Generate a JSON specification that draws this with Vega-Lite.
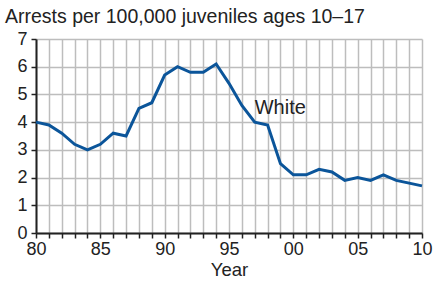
{
  "$schema": "https://vega.github.io/schema/vega-lite/v6.json",
  "width": 386,
  "height": 194,
  "autosize": "none",
  "padding": {"left": 36, "top": 39, "right": 23, "bottom": 49},
  "background": "white",
  "config": {
    "font": "Liberation Sans",
    "view": {"stroke": null}
  },
  "title": {
    "text": "Arrests per 100,000 juveniles ages 10–17",
    "anchor": "start",
    "frame": "group",
    "dx": -31,
    "offset": -12,
    "baseline": "alphabetic",
    "fontSize": 19.5,
    "fontWeight": "normal",
    "color": "#222"
  },
  "datasets": {
    "series": [
      {"year": 1980, "rate": 4.0},
      {"year": 1981, "rate": 3.9},
      {"year": 1982, "rate": 3.6},
      {"year": 1983, "rate": 3.2},
      {"year": 1984, "rate": 3.0},
      {"year": 1985, "rate": 3.2},
      {"year": 1986, "rate": 3.6},
      {"year": 1987, "rate": 3.5},
      {"year": 1988, "rate": 4.5},
      {"year": 1989, "rate": 4.7},
      {"year": 1990, "rate": 5.7},
      {"year": 1991, "rate": 6.0},
      {"year": 1992, "rate": 5.8},
      {"year": 1993, "rate": 5.8},
      {"year": 1994, "rate": 6.1},
      {"year": 1995, "rate": 5.4},
      {"year": 1996, "rate": 4.6},
      {"year": 1997, "rate": 4.0},
      {"year": 1998, "rate": 3.9},
      {"year": 1999, "rate": 2.5},
      {"year": 2000, "rate": 2.1},
      {"year": 2001, "rate": 2.1},
      {"year": 2002, "rate": 2.3},
      {"year": 2003, "rate": 2.2},
      {"year": 2004, "rate": 1.9},
      {"year": 2005, "rate": 2.0},
      {"year": 2006, "rate": 1.9},
      {"year": 2007, "rate": 2.1},
      {"year": 2008, "rate": 1.9},
      {"year": 2009, "rate": 1.8},
      {"year": 2010, "rate": 1.7}
    ],
    "labels": [
      {"year": 1997, "rate": 4.5, "label": "White"}
    ]
  },
  "encoding": {
    "x": {
      "field": "year",
      "type": "quantitative",
      "scale": {"domain": [1980, 2010], "nice": false, "zero": false},
      "axis": {
        "title": "Year",
        "titleFont": "Liberation Sans",
        "titleFontSize": 18.5,
        "titleFontWeight": "normal",
        "titleColor": "#222",
        "titlePadding": 2,
        "values": [1980,1981,1982,1983,1984,1985,1986,1987,1988,1989,1990,1991,1992,1993,1994,1995,1996,1997,1998,1999,2000,2001,2002,2003,2004,2005,2006,2007,2008,2009,2010],
        "labelExpr": "datum.value % 5 == 0 ? substring(toString(datum.value), 2) : ''",
        "labelFontSize": 18,
        "labelColor": "#222",
        "labelPadding": 2,
        "labelFlush": false,
        "labelOverlap": false,
        "domainColor": "#222",
        "domainWidth": 2,
        "tickColor": "#222",
        "tickWidth": 1.5,
        "tickSize": 5,
        "grid": true,
        "gridColor": "#bdbdbd",
        "gridWidth": 1.5
      }
    },
    "y": {
      "field": "rate",
      "type": "quantitative",
      "scale": {"domain": [0, 7], "nice": false},
      "axis": {
        "title": null,
        "values": [0,1,2,3,4,5,6,7],
        "labelFontSize": 18,
        "labelColor": "#222",
        "labelPadding": 4,
        "labelOverlap": false,
        "labelFlush": false,
        "domainColor": "#222",
        "domainWidth": 2,
        "tickColor": "#222",
        "tickWidth": 1.5,
        "tickSize": 5,
        "grid": true,
        "gridColor": "#bdbdbd",
        "gridWidth": 1.5
      }
    }
  },
  "layer": [
    {
      "data": {"name": "series"},
      "mark": {"type": "line", "color": "#0b559a", "strokeWidth": 3, "strokeJoin": "miter"}
    },
    {
      "data": {"name": "labels"},
      "mark": {"type": "text", "align": "left", "baseline": "middle", "fontSize": 20, "color": "#222", "font": "Liberation Sans"},
      "encoding": {
        "text": {"field": "label"}
      }
    }
  ]
}
